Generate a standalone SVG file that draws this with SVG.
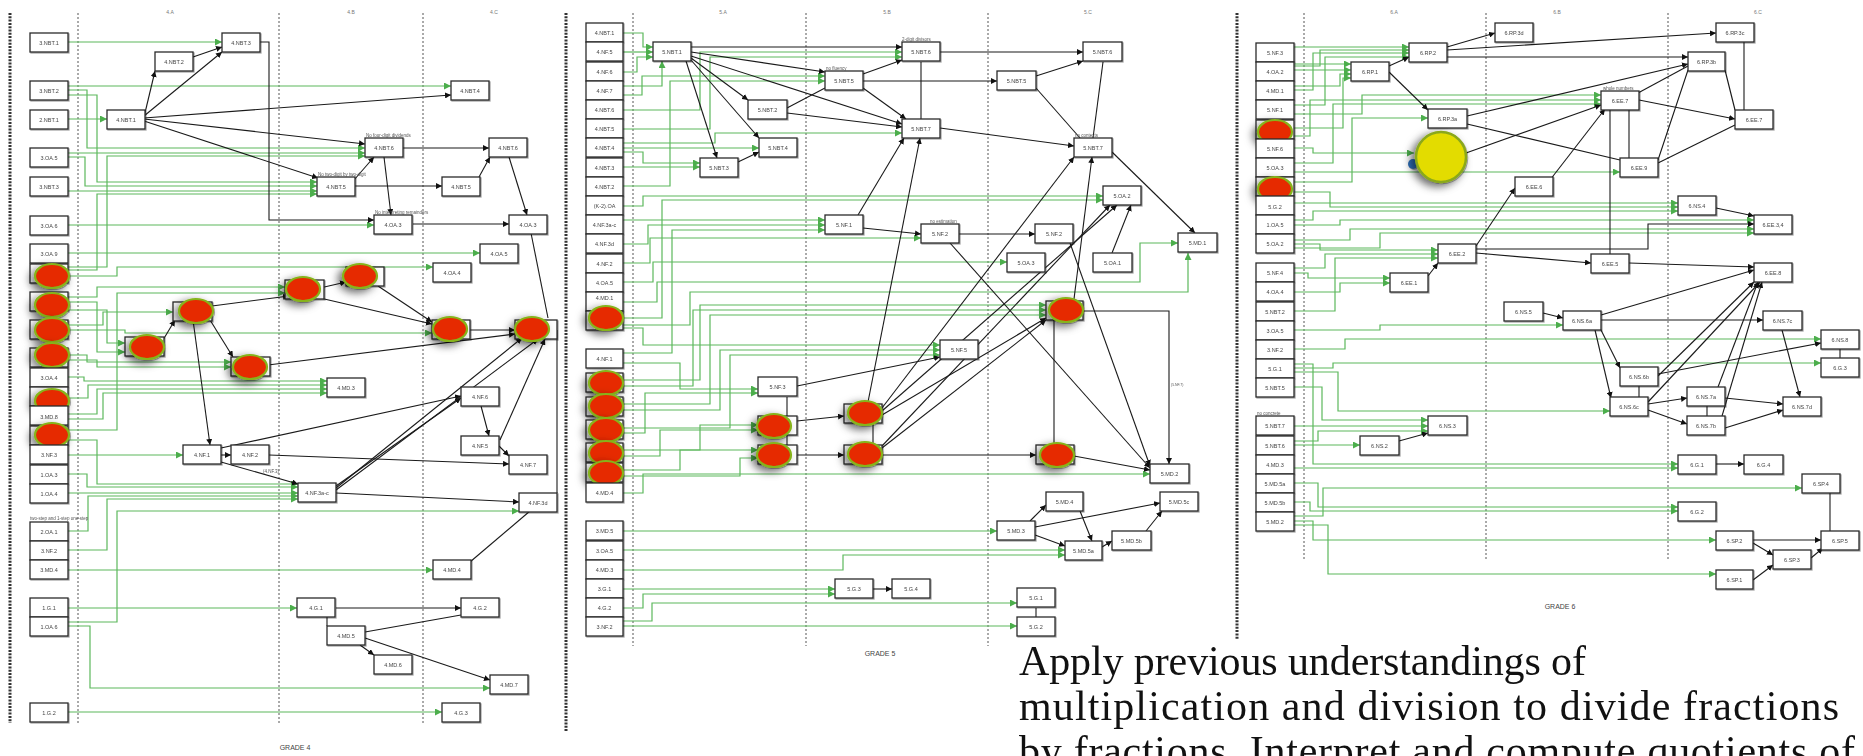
<svg xmlns="http://www.w3.org/2000/svg" width="1863" height="756" viewBox="0 0 1863 756">
<style>
.nd rect{fill:#fff;stroke:#2a2a2a;stroke-width:1.3}
.nd text{font-family:"Liberation Sans",Arial,sans-serif;font-size:5.5px;fill:#444;text-anchor:middle}
.lb{font-family:"Liberation Sans",Arial,sans-serif;font-size:4.5px;fill:#555}
.hd{font-family:"Liberation Sans",Arial,sans-serif;font-size:5px;fill:#777;text-anchor:middle}
.gr{font-family:"Liberation Sans",Arial,sans-serif;font-size:7px;fill:#444;text-anchor:middle}
.red{fill:#e62a00;stroke:#86b31a;stroke-width:2.2}
.g{fill:none;stroke:#5cb85c;stroke-width:1.2;marker-end:url(#ag)}
.gl{fill:none;stroke:#7fcb7f;stroke-width:1.2}
.b{fill:none;stroke:#1a1a1a;stroke-width:1.1;marker-end:url(#ab)}
.bl{fill:none;stroke:#1a1a1a;stroke-width:1.1}
.dv{stroke:#555;stroke-width:1;stroke-dasharray:2 2}
.bd{stroke:#333;stroke-width:3;stroke-dasharray:2 1.3}
.big{font-family:"Liberation Serif","Times New Roman",serif;font-size:42px;fill:#111}
</style>
<defs>
<marker id="ab" viewBox="0 0 10 10" refX="10" refY="5" markerWidth="6" markerHeight="6" markerUnits="userSpaceOnUse" orient="auto"><path d="M0,0L10,5L0,10z" fill="#111"/></marker>
<marker id="ag" viewBox="0 0 10 10" refX="10" refY="5" markerWidth="7" markerHeight="7" markerUnits="userSpaceOnUse" orient="auto"><path d="M0,0L10,5L0,10z" fill="#4cae4c"/></marker>
<filter id="sh" x="-80%" y="-80%" width="260%" height="260%"><feDropShadow dx="-4" dy="3" stdDeviation="4" flood-color="#000" flood-opacity="0.5"/></filter>
<filter id="bs" x="-5%" y="-5%" width="110%" height="110%"><feDropShadow dx="1" dy="1" stdDeviation="0.7" flood-color="#000" flood-opacity="0.35"/></filter>
</defs>
<rect width="1863" height="756" fill="#fff"/>

<!-- column dividers -->
<g id="dividers">
<line class="bd" x1="10" y1="13" x2="10" y2="723"/>
<line class="dv" x1="78" y1="13" x2="78" y2="723"/>
<line class="dv" x1="279" y1="13" x2="279" y2="723"/>
<line class="dv" x1="423" y1="13" x2="423" y2="723"/>
<line class="bd" x1="566" y1="13" x2="566" y2="731"/>
<line class="dv" x1="633" y1="13" x2="633" y2="646"/>
<line class="dv" x1="806" y1="13" x2="806" y2="646"/>
<line class="dv" x1="988" y1="13" x2="988" y2="646"/>
<line class="bd" x1="1237" y1="13" x2="1237" y2="640"/>
<line class="dv" x1="1304" y1="13" x2="1304" y2="560"/>
<line class="dv" x1="1486" y1="13" x2="1486" y2="560"/>
<line class="dv" x1="1668" y1="13" x2="1668" y2="560"/>
<text class="hd" x="170" y="14">4.A</text><text class="hd" x="351" y="14">4.B</text><text class="hd" x="494" y="14">4.C</text>
<text class="hd" x="723" y="14">5.A</text><text class="hd" x="887" y="14">5.B</text><text class="hd" x="1088" y="14">5.C</text>
<text class="hd" x="1394" y="14">6.A</text><text class="hd" x="1557" y="14">6.B</text><text class="hd" x="1758" y="14">6.C</text>
<text class="gr" x="295" y="750">GRADE 4</text>
<text class="gr" x="880" y="656">GRADE 5</text>
<text class="gr" x="1560" y="609">GRADE 6</text>
</g>

<g id="connectors">
<!-- Grade 4 green -->
<path class="g" d="M68,42H222"/>
<path class="g" d="M68,86H451"/>
<path class="g" d="M68,90H87V148H365"/>
<path class="g" d="M68,95H97V182H317"/>
<path class="g" d="M68,119H107"/>
<path class="g" d="M68,153H365"/>
<path class="g" d="M68,157H85V186H317"/>
<path class="g" d="M68,191H317"/>
<path class="g" d="M68,225H374"/>
<path class="g" d="M68,253H480"/>
<path class="g" d="M68,270H97V194H317"/>
<path class="g" d="M68,267H107V156H365"/>
<path class="g" d="M68,276H117V267H433"/>
<path class="g" d="M68,297H97V287H285"/>
<path class="g" d="M68,302H97V352H125"/>
<path class="g" d="M68,310H107V343H125"/>
<path class="g" d="M68,325H103V312H173"/>
<path class="g" d="M68,330H125V333H432"/>
<path class="g" d="M68,360H97V367H231"/>
<path class="g" d="M68,355H87V362H231"/>
<path class="g" d="M68,377H84V381H327"/>
<path class="g" d="M68,398H88V385H327"/>
<path class="g" d="M68,414H97V389H327"/>
<path class="g" d="M68,419H103V393H327"/>
<path class="g" d="M68,430H117V293H285"/>
<path class="g" d="M68,440H97V484H298"/>
<path class="g" d="M68,455H183"/>
<path class="g" d="M68,474H87V487H298"/>
<path class="g" d="M68,493H298"/>
<path class="g" d="M68,531H88V496H298"/>
<path class="g" d="M68,550H107V499H298"/>
<path class="g" d="M68,570H433"/>
<path class="g" d="M68,608H297"/>
<path class="g" d="M68,622H117V511H519"/>
<path class="g" d="M68,626H90V688H490"/>
<path class="g" d="M68,712H442"/>
<!-- Grade 4 black -->
<path class="b" d="M193,57L222,47"/>
<path class="b" d="M144,117L155,71"/>
<path class="b" d="M144,116L222,52"/>
<path class="b" d="M144,118L451,95"/>
<path class="b" d="M144,119L365,144"/>
<path class="b" d="M144,121L318,178"/>
<path class="b" d="M260,42H269V220H374"/>
<path class="b" d="M403,148H489"/>
<path class="b" d="M354,180L374,157"/>
<path class="b" d="M354,186H442"/>
<path class="b" d="M479,177L490,157"/>
<path class="b" d="M384,157L391,215"/>
<path class="b" d="M413,224H509"/>
<path class="b" d="M509,157L527,215"/>
<path class="bl" d="M531,233L548,318"/>
<path class="b" d="M212,306L289,296"/>
<path class="b" d="M163,340L175,320"/>
<path class="b" d="M210,320L233,357"/>
<path class="b" d="M193,320L210,445"/>
<path class="b" d="M320,288L346,282"/>
<path class="b" d="M320,298L432,324"/>
<path class="b" d="M378,286L432,322"/>
<path class="b" d="M268,365L515,334"/>
<path class="b" d="M470,330H515"/>
<path class="b" d="M221,448L461,396"/>
<path class="b" d="M221,455H231"/>
<path class="b" d="M221,462L298,484"/>
<path class="b" d="M269,455L509,464"/>
<path class="b" d="M336,486L461,398"/>
<path class="b" d="M336,488L522,338"/>
<path class="b" d="M336,490L538,339"/>
<path class="b" d="M336,493L519,502"/>
<path class="b" d="M481,406L489,436"/>
<path class="b" d="M499,446L509,456"/>
<path class="b" d="M500,440L545,339"/>
<path class="bl" d="M557,330V493"/>
<path class="bl" d="M470,562L530,511"/>
<path class="b" d="M336,608H461"/>
<path class="bl" d="M327,617V626"/>
<path class="bl" d="M365,632L461,615"/>
<path class="b" d="M360,645L374,655"/>
<path class="b" d="M365,638L490,680"/>

<!-- Grade 5 green -->
<path class="g" d="M623,33H643V47H653"/>
<path class="g" d="M623,52H653"/>
<path class="g" d="M623,72H637V57H653"/>
<path class="g" d="M623,86H662V61"/>
<path class="g" d="M623,95H642V76H825"/>
<path class="g" d="M623,110H700V52H902"/>
<path class="g" d="M623,129H710V57H902"/>
<path class="g" d="M623,143H715V133H902"/>
<path class="g" d="M623,148H759"/>
<path class="g" d="M623,152H643V163H700"/>
<path class="g" d="M623,167H700"/>
<path class="g" d="M623,186H670V81H825"/>
<path class="g" d="M623,206H643V196H1103"/>
<path class="g" d="M623,220H825"/>
<path class="g" d="M623,244H648V225H825"/>
<path class="g" d="M623,263H650V238H921"/>
<path class="g" d="M623,282H653V262H1007"/>
<path class="g" d="M623,302H657V282H1140V243H1178"/>
<path class="g" d="M623,318H662V200H1103"/>
<path class="g" d="M623,325H690V292H1188V253"/>
<path class="g" d="M623,328H643V345H940"/>
<path class="g" d="M623,353H672V230H825"/>
<path class="g" d="M623,363H680V389H758"/>
<path class="g" d="M623,380H700V305H1046"/>
<path class="g" d="M623,386H693V310H1046"/>
<path class="g" d="M623,404H710V315H1046"/>
<path class="g" d="M623,410H720V350H940"/>
<path class="g" d="M623,428H730V355H940"/>
<path class="g" d="M623,433H645V393H758"/>
<path class="g" d="M623,450H700V425H758"/>
<path class="g" d="M623,456H660V430H758"/>
<path class="g" d="M623,470H680V450H758"/>
<path class="g" d="M623,476H740V458H758"/>
<path class="g" d="M623,493H643V474H1150"/>
<path class="g" d="M623,531H997"/>
<path class="g" d="M623,550H1065"/>
<path class="g" d="M623,570H843V555H1065"/>
<path class="g" d="M623,589H835"/>
<path class="g" d="M623,608H643V594H835"/>
<path class="g" d="M623,621H652V603H1017"/>
<path class="g" d="M623,626H1017"/>
<!-- Grade 5 black -->
<path class="b" d="M691,47H902"/>
<path class="b" d="M691,52L825,72"/>
<path class="b" d="M691,58L748,100"/>
<path class="b" d="M691,60L759,138"/>
<path class="b" d="M686,61L717,158"/>
<path class="b" d="M691,56L902,124"/>
<path class="bl" d="M787,108L825,88"/>
<path class="b" d="M787,113L902,127"/>
<path class="b" d="M738,162L759,152"/>
<path class="b" d="M863,74L902,60"/>
<path class="b" d="M863,81H997"/>
<path class="b" d="M863,88L906,119"/>
<path class="bl" d="M921,62V119"/>
<path class="b" d="M940,52H1083"/>
<path class="b" d="M1036,76L1083,61"/>
<path class="bl" d="M1036,88L1080,138"/>
<path class="bl" d="M1103,62L1093,138"/>
<path class="b" d="M940,128L1074,146"/>
<path class="b" d="M1112,152L1195,233"/>
<path class="b" d="M858,215L904,138"/>
<path class="b" d="M868,402L920,138"/>
<path class="b" d="M863,228L921,234"/>
<path class="b" d="M959,234H1035"/>
<path class="b" d="M950,243L1150,468"/>
<path class="b" d="M1070,243L1150,466"/>
<path class="b" d="M1112,253L1131,205"/>
<path class="b" d="M1074,299L1092,157"/>
<path class="b" d="M1083,311H1169V464"/>
<path class="bl" d="M1054,320V445"/>
<path class="b" d="M1074,456L1150,470"/>
<path class="b" d="M797,455H844"/>
<path class="b" d="M797,421L844,416"/>
<path class="b" d="M882,455H1036"/>
<path class="bl" d="M873,424V445"/>
<path class="b" d="M882,408L1074,157"/>
<path class="b" d="M882,411L1117,205"/>
<path class="b" d="M882,415L1046,318"/>
<path class="b" d="M882,448L1046,320"/>
<path class="b" d="M882,446L1110,205"/>
<path class="b" d="M797,386L940,357"/>
<path class="bl" d="M787,397V416"/>
<path class="bl" d="M787,435V445"/>
<path class="b" d="M1030,521L1046,505"/>
<path class="b" d="M1035,527L1160,503"/>
<path class="b" d="M1035,535L1065,546"/>
<path class="b" d="M1080,511L1092,541"/>
<path class="b" d="M1102,547L1112,541"/>
<path class="b" d="M1146,531L1162,511"/>
<path class="b" d="M873,589H892"/>
<path class="bl" d="M1036,608V617"/>

<!-- Grade 6 green -->
<path class="g" d="M1294,47H1409"/>
<path class="g" d="M1294,66H1320V50H1409"/>
<path class="g" d="M1294,90H1313V53H1409"/>
<path class="g" d="M1294,105H1325V57H1409"/>
<path class="g" d="M1294,64H1351"/>
<path class="g" d="M1294,70H1351"/>
<path class="g" d="M1294,86H1340V74H1351"/>
<path class="g" d="M1294,128H1343V78H1351"/>
<path class="g" d="M1294,182H1352V118H1428"/>
<path class="g" d="M1294,148H1313V153H1414"/>
<path class="g" d="M1294,114H1362V95H1601"/>
<path class="g" d="M1294,136H1310V100H1601"/>
<path class="g" d="M1294,163H1333V104H1601"/>
<path class="g" d="M1294,172H1620"/>
<path class="g" d="M1294,203H1678"/>
<path class="g" d="M1294,192H1330V207H1678"/>
<path class="g" d="M1294,220H1313V211H1678"/>
<path class="g" d="M1294,225H1340V220H1754"/>
<path class="g" d="M1294,240H1350V229H1754"/>
<path class="g" d="M1294,248H1380V233H1754"/>
<path class="g" d="M1294,244H1320V250H1438"/>
<path class="g" d="M1294,268H1325V254H1438"/>
<path class="g" d="M1294,311H1335V258H1438"/>
<path class="g" d="M1294,273H1308V278H1390"/>
<path class="g" d="M1294,292H1340V283H1390"/>
<path class="g" d="M1294,330H1380V325H1563"/>
<path class="g" d="M1294,349H1345V339H1821"/>
<path class="g" d="M1294,368H1333V363H1821"/>
<path class="g" d="M1294,372H1338V411H1610"/>
<path class="g" d="M1294,387H1322V420H1428"/>
<path class="g" d="M1294,426H1428"/>
<path class="g" d="M1294,441H1318V431H1428"/>
<path class="g" d="M1294,445H1360"/>
<path class="g" d="M1294,468H1678"/>
<path class="g" d="M1294,364H1313V464H1678"/>
<path class="g" d="M1294,516H1323V488H1802"/>
<path class="g" d="M1294,483H1318V507H1678"/>
<path class="g" d="M1294,502H1310V511H1678"/>
<path class="g" d="M1294,521H1313V540H1716"/>
<path class="g" d="M1294,525H1328V574H1716"/>
<!-- Grade 6 black -->
<path class="b" d="M1389,66L1409,57"/>
<path class="b" d="M1389,72L1428,110"/>
<path class="b" d="M1447,47L1495,33"/>
<path class="b" d="M1447,50L1716,33"/>
<path class="b" d="M1447,57H1688"/>
<path class="b" d="M1467,116L1688,64"/>
<path class="bl" d="M1467,124L1620,160"/>
<path class="b" d="M1466,153L1601,105"/>
<path class="b" d="M1550,180L1605,109"/>
<path class="b" d="M1476,246L1515,188"/>
<path class="b" d="M1428,276L1438,263"/>
<path class="b" d="M1476,253L1591,263"/>
<path class="b" d="M1639,100L1735,119"/>
<path class="bl" d="M1638,93L1688,66"/>
<path class="bl" d="M1629,109V158"/>
<path class="bl" d="M1610,109V254"/>
<path class="bl" d="M1658,160L1688,70"/>
<path class="bl" d="M1658,163L1735,125"/>
<path class="bl" d="M1725,70L1735,110"/>
<path class="bl" d="M1744,42V110"/>
<path class="b" d="M1716,208L1754,216"/>
<path class="b" d="M1629,263L1754,267"/>
<path class="b" d="M1476,249H1648V224H1754"/>
<path class="b" d="M1543,313L1563,318"/>
<path class="b" d="M1601,315L1754,270"/>
<path class="b" d="M1601,320H1763"/>
<path class="b" d="M1599,326L1620,368"/>
<path class="b" d="M1595,330L1611,398"/>
<path class="bl" d="M1639,386V397"/>
<path class="b" d="M1658,376L1754,282"/>
<path class="b" d="M1658,374L1821,343"/>
<path class="b" d="M1648,404L1687,398"/>
<path class="b" d="M1648,410L1687,424"/>
<path class="b" d="M1648,402L1760,282"/>
<path class="bl" d="M1707,406V416"/>
<path class="b" d="M1725,398L1783,404"/>
<path class="b" d="M1725,428L1783,410"/>
<path class="b" d="M1782,330L1800,397"/>
<path class="b" d="M1718,387L1758,282"/>
<path class="b" d="M1722,416L1762,282"/>
<path class="b" d="M1399,441L1428,433"/>
<path class="b" d="M1716,464H1744"/>
<path class="bl" d="M1830,493V531"/>
<path class="bl" d="M1840,349V358"/>
<path class="b" d="M1753,540H1821"/>
<path class="b" d="M1753,543L1773,555"/>
<path class="b" d="M1811,558L1823,548"/>
<path class="b" d="M1753,580L1773,565"/>
</g>

<g id="nodes" filter="url(#bs)">
<!-- Grade 4 left column -->
<g id="g4-3NBT1" class="nd"><rect x="30" y="33" width="38" height="19"/><text x="49" y="44.5">3.NBT.1</text></g>
<g id="g4-3NBT2" class="nd"><rect x="30" y="81" width="38" height="19"/><text x="49" y="92.5">3.NBT.2</text></g>
<g id="g4-2NBT1" class="nd"><rect x="30" y="110" width="38" height="19"/><text x="49" y="121.5">2.NBT.1</text></g>
<g id="g4-3OA5" class="nd"><rect x="30" y="148" width="38" height="19"/><text x="49" y="159.5">3.OA.5</text></g>
<g id="g4-3NBT3" class="nd"><rect x="30" y="177" width="38" height="19"/><text x="49" y="188.5">3.NBT.3</text></g>
<g id="g4-3OA6" class="nd"><rect x="30" y="216" width="38" height="19"/><text x="49" y="227.5">3.OA.6</text></g>
<g id="g4-3OA9" class="nd"><rect x="30" y="244" width="38" height="19"/><text x="49" y="255.5">3.OA.9</text></g>
<g id="g4-r1" class="nd"><rect x="30" y="264" width="38" height="19"/><ellipse class="red" filter="url(#sh)" cx="52" cy="276" rx="17" ry="12"/></g>
<g id="g4-r2" class="nd"><rect x="30" y="292" width="38" height="19"/><ellipse class="red" filter="url(#sh)" cx="52" cy="305" rx="17" ry="12"/></g>
<g id="g4-r3" class="nd"><rect x="30" y="320" width="38" height="19"/><ellipse class="red" filter="url(#sh)" cx="52" cy="330" rx="17" ry="12"/></g>
<g id="g4-r4" class="nd"><rect x="30" y="348" width="38" height="19"/><ellipse class="red" filter="url(#sh)" cx="52" cy="355" rx="17" ry="12"/></g>
<g id="g4-3OA4" class="nd"><rect x="30" y="368" width="38" height="19"/><text x="49" y="379.5">3.OA.4</text></g>
<g id="g4-r5" class="nd"><rect x="30" y="387" width="38" height="19"/><ellipse class="red" filter="url(#sh)" cx="52" cy="401" rx="17" ry="12"/></g>
<g id="g4-3MD8" class="nd"><rect x="30" y="406" width="38" height="19"/><text x="49" y="419">3.MD.8</text></g>
<g id="g4-r6" class="nd"><rect x="30" y="426" width="38" height="19"/><ellipse class="red" filter="url(#sh)" cx="52" cy="435" rx="17" ry="12"/></g>
<g id="g4-3NF3" class="nd"><rect x="30" y="445" width="38" height="19"/><text x="49" y="456.5">3.NF.3</text></g>
<g id="g4-1OA3" class="nd"><rect x="30" y="465" width="38" height="19"/><text x="49" y="476.5">1.OA.3</text></g>
<g id="g4-1OA4" class="nd"><rect x="30" y="484" width="38" height="19"/><text x="49" y="495.5">1.OA.4</text></g>
<g id="g4-2OA1" class="nd"><rect x="30" y="522" width="38" height="19"/><text x="49" y="533.5">2.OA.1</text></g>
<g id="g4-3NF2" class="nd"><rect x="30" y="541" width="38" height="19"/><text x="49" y="552.5">3.NF.2</text></g>
<g id="g4-3MD4" class="nd"><rect x="30" y="560" width="38" height="19"/><text x="49" y="571.5">3.MD.4</text></g>
<g id="g4-1G1" class="nd"><rect x="30" y="598" width="38" height="19"/><text x="49" y="609.5">1.G.1</text></g>
<g id="g4-1OA6" class="nd"><rect x="30" y="617" width="38" height="19"/><text x="49" y="628.5">1.OA.6</text></g>
<g id="g4-1G2" class="nd"><rect x="30" y="703" width="38" height="19"/><text x="49" y="714.5">1.G.2</text></g>
<!-- Grade 4 interior -->
<g id="g4-4NBT2" class="nd"><rect x="155" y="52" width="38" height="19"/><text x="174" y="63.5">4.NBT.2</text></g>
<g id="g4-4NBT3" class="nd"><rect x="222" y="33" width="38" height="19"/><text x="241" y="44.5">4.NBT.3</text></g>
<g id="g4-4NBT1" class="nd"><rect x="107" y="110" width="38" height="19"/><text x="126" y="121.5">4.NBT.1</text></g>
<g id="g4-4NBT4" class="nd"><rect x="451" y="81" width="38" height="19"/><text x="470" y="92.5">4.NBT.4</text></g>
<g id="g4-4NBT6b" class="nd"><rect x="365" y="138" width="38" height="19"/><text x="384" y="149.5">4.NBT.6</text></g>
<g id="g4-4NBT5b" class="nd"><rect x="317" y="177" width="38" height="19"/><text x="336" y="188.5">4.NBT.5</text></g>
<g id="g4-4NBT6c" class="nd"><rect x="489" y="138" width="38" height="19"/><text x="508" y="149.5">4.NBT.6</text></g>
<g id="g4-4NBT5c" class="nd"><rect x="442" y="177" width="38" height="19"/><text x="461" y="188.5">4.NBT.5</text></g>
<g id="g4-4OA3b" class="nd"><rect x="374" y="215" width="38" height="19"/><text x="393" y="226.5">4.OA.3</text></g>
<g id="g4-4OA3c" class="nd"><rect x="509" y="215" width="38" height="19"/><text x="528" y="226.5">4.OA.3</text></g>
<g id="g4-4OA5" class="nd"><rect x="480" y="244" width="38" height="19"/><text x="499" y="255.5">4.OA.5</text></g>
<g id="g4-4OA4" class="nd"><rect x="433" y="263" width="38" height="19"/><text x="452" y="274.5">4.OA.4</text></g>
<g id="g4-r7" class="nd"><rect x="173" y="302" width="39" height="19"/><ellipse class="red" filter="url(#sh)" cx="196" cy="311" rx="17" ry="12"/></g>
<g id="g4-r8" class="nd"><rect x="125" y="337" width="39" height="19"/><ellipse class="red" filter="url(#sh)" cx="147" cy="347" rx="17" ry="12"/></g>
<g id="g4-r9" class="nd"><rect x="231" y="357" width="39" height="19"/><ellipse class="red" filter="url(#sh)" cx="250" cy="367" rx="17" ry="12"/></g>
<g id="g4-r10" class="nd"><rect x="285" y="280" width="39" height="19"/><ellipse class="red" filter="url(#sh)" cx="303" cy="289" rx="17" ry="12"/></g>
<g id="g4-r11" class="nd"><rect x="346" y="267" width="38" height="19"/><ellipse class="red" filter="url(#sh)" cx="360" cy="276" rx="17" ry="12"/></g>
<g id="g4-r12" class="nd"><rect x="432" y="320" width="38" height="19"/><ellipse class="red" filter="url(#sh)" cx="450" cy="329" rx="17" ry="12"/></g>
<g id="g4-r13" class="nd"><rect x="515" y="320" width="42" height="19"/><ellipse class="red" filter="url(#sh)" cx="532" cy="329" rx="17" ry="12"/></g>
<g id="g4-4MD3" class="nd"><rect x="327" y="378" width="38" height="19"/><text x="346" y="389.5">4.MD.3</text></g>
<g id="g4-4NF6" class="nd"><rect x="461" y="387" width="38" height="19"/><text x="480" y="398.5">4.NF.6</text></g>
<g id="g4-4NF5" class="nd"><rect x="461" y="436" width="38" height="19"/><text x="480" y="447.5">4.NF.5</text></g>
<g id="g4-4NF7" class="nd"><rect x="509" y="455" width="38" height="19"/><text x="528" y="466.5">4.NF.7</text></g>
<g id="g4-4NF3d" class="nd"><rect x="519" y="493" width="38" height="19"/><text x="538" y="504.5">4.NF.3d</text></g>
<g id="g4-4NF1" class="nd"><rect x="183" y="445" width="38" height="19"/><text x="202" y="456.5">4.NF.1</text></g>
<g id="g4-4NF2" class="nd"><rect x="231" y="445" width="38" height="19"/><text x="250" y="456.5">4.NF.2</text></g>
<g id="g4-4NF3ac" class="nd"><rect x="298" y="483" width="38" height="19"/><text x="317" y="494.5">4.NF.3a-c</text></g>
<g id="g4-4MD4" class="nd"><rect x="433" y="560" width="38" height="19"/><text x="452" y="571.5">4.MD.4</text></g>
<g id="g4-4G1" class="nd"><rect x="297" y="598" width="38" height="19"/><text x="316" y="609.5">4.G.1</text></g>
<g id="g4-4G2" class="nd"><rect x="461" y="598" width="38" height="19"/><text x="480" y="609.5">4.G.2</text></g>
<g id="g4-4MD5" class="nd"><rect x="327" y="626" width="38" height="19"/><text x="346" y="637.5">4.MD.5</text></g>
<g id="g4-4MD6" class="nd"><rect x="374" y="655" width="38" height="19"/><text x="393" y="666.5">4.MD.6</text></g>
<g id="g4-4MD7" class="nd"><rect x="490" y="675" width="38" height="19"/><text x="509" y="686.5">4.MD.7</text></g>
<g id="g4-4G3" class="nd"><rect x="442" y="703" width="38" height="19"/><text x="461" y="714.5">4.G.3</text></g>

<!-- Grade 5 left column -->
<g id="g5-4NBT1" class="nd"><rect x="586" y="23" width="37" height="19"/><text x="604.5" y="34.5">4.NBT.1</text></g>
<g id="g5-4NF5" class="nd"><rect x="586" y="42" width="37" height="19"/><text x="604.5" y="53.5">4.NF.5</text></g>
<g id="g5-4NF6" class="nd"><rect x="586" y="62" width="37" height="19"/><text x="604.5" y="73.5">4.NF.6</text></g>
<g id="g5-4NF7" class="nd"><rect x="586" y="81" width="37" height="19"/><text x="604.5" y="92.5">4.NF.7</text></g>
<g id="g5-4NBT6" class="nd"><rect x="586" y="100" width="37" height="19"/><text x="604.5" y="111.5">4.NBT.6</text></g>
<g id="g5-4NBT5" class="nd"><rect x="586" y="119" width="37" height="19"/><text x="604.5" y="130.5">4.NBT.5</text></g>
<g id="g5-4NBT4" class="nd"><rect x="586" y="138" width="37" height="19"/><text x="604.5" y="149.5">4.NBT.4</text></g>
<g id="g5-4NBT3" class="nd"><rect x="586" y="158" width="37" height="19"/><text x="604.5" y="169.5">4.NBT.3</text></g>
<g id="g5-4NBT2" class="nd"><rect x="586" y="177" width="37" height="19"/><text x="604.5" y="188.5">4.NBT.2</text></g>
<g id="g5-K2OA" class="nd"><rect x="586" y="196" width="37" height="19"/><text x="604.5" y="207.5">(K-2).OA</text></g>
<g id="g5-4NF3ac" class="nd"><rect x="586" y="215" width="37" height="19"/><text x="604.5" y="226.5">4.NF.3a-c</text></g>
<g id="g5-4NF3d" class="nd"><rect x="586" y="234" width="37" height="19"/><text x="604.5" y="245.5">4.NF.3d</text></g>
<g id="g5-4NF2" class="nd"><rect x="586" y="254" width="37" height="19"/><text x="604.5" y="265.5">4.NF.2</text></g>
<g id="g5-4OA5" class="nd"><rect x="586" y="273" width="37" height="19"/><text x="604.5" y="284.5">4.OA.5</text></g>
<g id="g5-4MD1" class="nd"><rect x="586" y="292" width="37" height="19"/><text x="604.5" y="300">4.MD.1</text></g>
<g id="g5-r1" class="nd"><rect x="586" y="311" width="37" height="19"/><ellipse class="red" filter="url(#sh)" cx="606" cy="318" rx="17" ry="12"/></g>
<g id="g5-4NF1" class="nd"><rect x="586" y="349" width="37" height="19"/><text x="604.5" y="360.5">4.NF.1</text></g>
<g id="g5-r2" class="nd"><rect x="586" y="373" width="37" height="19"/><ellipse class="red" filter="url(#sh)" cx="606" cy="383" rx="17" ry="12"/></g>
<g id="g5-r3" class="nd"><rect x="586" y="397" width="37" height="19"/><ellipse class="red" filter="url(#sh)" cx="606" cy="406" rx="17" ry="12"/></g>
<g id="g5-r4" class="nd"><rect x="586" y="420" width="37" height="19"/><ellipse class="red" filter="url(#sh)" cx="606" cy="430" rx="17" ry="12"/></g>
<g id="g5-r5" class="nd"><rect x="586" y="443" width="37" height="19"/><ellipse class="red" filter="url(#sh)" cx="606" cy="453" rx="17" ry="12"/></g>
<g id="g5-r6" class="nd"><rect x="586" y="463" width="37" height="19"/><ellipse class="red" filter="url(#sh)" cx="606" cy="473" rx="17" ry="12"/></g>
<g id="g5-4MD4" class="nd"><rect x="586" y="483" width="37" height="19"/><text x="604.5" y="494.5">4.MD.4</text></g>
<g id="g5-3MD5" class="nd"><rect x="586" y="521" width="37" height="19"/><text x="604.5" y="532.5">3.MD.5</text></g>
<g id="g5-3OA5" class="nd"><rect x="586" y="541" width="37" height="19"/><text x="604.5" y="552.5">3.OA.5</text></g>
<g id="g5-4MD3" class="nd"><rect x="586" y="560" width="37" height="19"/><text x="604.5" y="571.5">4.MD.3</text></g>
<g id="g5-3G1" class="nd"><rect x="586" y="579" width="37" height="19"/><text x="604.5" y="590.5">3.G.1</text></g>
<g id="g5-4G2" class="nd"><rect x="586" y="598" width="37" height="19"/><text x="604.5" y="609.5">4.G.2</text></g>
<g id="g5-3NF2" class="nd"><rect x="586" y="617" width="37" height="19"/><text x="604.5" y="628.5">3.NF.2</text></g>
<!-- Grade 5 interior -->
<g id="g5-5NBT1" class="nd"><rect x="653" y="42" width="38" height="19"/><text x="672" y="53.5">5.NBT.1</text></g>
<g id="g5-5NBT5b" class="nd"><rect x="825" y="71" width="38" height="19"/><text x="844" y="82.5">5.NBT.5</text></g>
<g id="g5-5NBT2" class="nd"><rect x="748" y="100" width="39" height="19"/><text x="767.5" y="111.5">5.NBT.2</text></g>
<g id="g5-5NBT4" class="nd"><rect x="759" y="138" width="38" height="19"/><text x="778" y="149.5">5.NBT.4</text></g>
<g id="g5-5NBT3" class="nd"><rect x="700" y="158" width="38" height="19"/><text x="719" y="169.5">5.NBT.3</text></g>
<g id="g5-5NBT6b" class="nd"><rect x="902" y="42" width="38" height="19"/><text x="921" y="53.5">5.NBT.6</text></g>
<g id="g5-5NBT7b" class="nd"><rect x="902" y="119" width="38" height="19"/><text x="921" y="130.5">5.NBT.7</text></g>
<g id="g5-5NBT6c" class="nd"><rect x="1083" y="42" width="39" height="19"/><text x="1102.5" y="53.5">5.NBT.6</text></g>
<g id="g5-5NBT5c" class="nd"><rect x="997" y="71" width="39" height="19"/><text x="1016.5" y="82.5">5.NBT.5</text></g>
<g id="g5-5NBT7c" class="nd"><rect x="1074" y="138" width="38" height="19"/><text x="1093" y="149.5">5.NBT.7</text></g>
<g id="g5-5OA2" class="nd"><rect x="1103" y="186" width="38" height="19"/><text x="1122" y="197.5">5.OA.2</text></g>
<g id="g5-5NF2b" class="nd"><rect x="921" y="224" width="38" height="19"/><text x="940" y="235.5">5.NF.2</text></g>
<g id="g5-5NF2c" class="nd"><rect x="1035" y="224" width="38" height="19"/><text x="1054" y="235.5">5.NF.2</text></g>
<g id="g5-5OA3" class="nd"><rect x="1007" y="253" width="38" height="19"/><text x="1026" y="264.5">5.OA.3</text></g>
<g id="g5-5OA1" class="nd"><rect x="1093" y="253" width="39" height="19"/><text x="1112.5" y="264.5">5.OA.1</text></g>
<g id="g5-5MD1" class="nd"><rect x="1178" y="233" width="39" height="19"/><text x="1197.5" y="244.5">5.MD.1</text></g>
<g id="g5-5NF1" class="nd"><rect x="825" y="215" width="38" height="19"/><text x="844" y="226.5">5.NF.1</text></g>
<g id="g5-rC1" class="nd"><rect x="1046" y="301" width="37" height="19"/><ellipse class="red" filter="url(#sh)" cx="1066" cy="310" rx="17" ry="12"/></g>
<g id="g5-5NF5" class="nd"><rect x="940" y="340" width="38" height="19"/><text x="959" y="351.5">5.NF.5</text></g>
<g id="g5-5NF3" class="nd"><rect x="758" y="377" width="39" height="19"/><text x="777.5" y="388.5">5.NF.3</text></g>
<g id="g5-rA1" class="nd"><rect x="758" y="416" width="39" height="19"/><ellipse class="red" filter="url(#sh)" cx="774" cy="426" rx="17" ry="12"/></g>
<g id="g5-rA2" class="nd"><rect x="758" y="445" width="39" height="19"/><ellipse class="red" filter="url(#sh)" cx="774" cy="455" rx="17" ry="12"/></g>
<g id="g5-rB1" class="nd"><rect x="844" y="404" width="38" height="19"/><ellipse class="red" filter="url(#sh)" cx="865" cy="413" rx="17" ry="12"/></g>
<g id="g5-rB2" class="nd"><rect x="844" y="445" width="38" height="19"/><ellipse class="red" filter="url(#sh)" cx="865" cy="454" rx="17" ry="12"/></g>
<g id="g5-rC2" class="nd"><rect x="1036" y="445" width="38" height="19"/><ellipse class="red" filter="url(#sh)" cx="1057" cy="455" rx="17" ry="12"/></g>
<g id="g5-5MD2" class="nd"><rect x="1150" y="464" width="39" height="19"/><text x="1169.5" y="475.5">5.MD.2</text></g>
<g id="g5-5MD3" class="nd"><rect x="997" y="521" width="38" height="19"/><text x="1016" y="532.5">5.MD.3</text></g>
<g id="g5-5MD4" class="nd"><rect x="1046" y="492" width="37" height="19"/><text x="1064.5" y="503.5">5.MD.4</text></g>
<g id="g5-5MD5c" class="nd"><rect x="1160" y="492" width="38" height="19"/><text x="1179" y="503.5">5.MD.5c</text></g>
<g id="g5-5MD5a" class="nd"><rect x="1065" y="541" width="37" height="19"/><text x="1083.5" y="552.5">5.MD.5a</text></g>
<g id="g5-5MD5b" class="nd"><rect x="1112" y="531" width="39" height="19"/><text x="1131.5" y="542.5">5.MD.5b</text></g>
<g id="g5-5G3" class="nd"><rect x="835" y="579" width="38" height="19"/><text x="854" y="590.5">5.G.3</text></g>
<g id="g5-5G4" class="nd"><rect x="892" y="579" width="38" height="19"/><text x="911" y="590.5">5.G.4</text></g>
<g id="g5-5G1" class="nd"><rect x="1017" y="588" width="38" height="19"/><text x="1036" y="599.5">5.G.1</text></g>
<g id="g5-5G2" class="nd"><rect x="1017" y="617" width="38" height="19"/><text x="1036" y="628.5">5.G.2</text></g>

<!-- Grade 6 left column -->
<g id="g6-5NF3" class="nd"><rect x="1256" y="43" width="38" height="19"/><text x="1275" y="54.5">5.NF.3</text></g>
<g id="g6-4OA2" class="nd"><rect x="1256" y="62" width="38" height="19"/><text x="1275" y="73.5">4.OA.2</text></g>
<g id="g6-4MD1" class="nd"><rect x="1256" y="81" width="38" height="19"/><text x="1275" y="92.5">4.MD.1</text></g>
<g id="g6-5NF1" class="nd"><rect x="1256" y="100" width="38" height="19"/><text x="1275" y="111.5">5.NF.1</text></g>
<g id="g6-r1" class="nd"><rect x="1256" y="120" width="38" height="19"/><ellipse class="red" filter="url(#sh)" cx="1275" cy="132" rx="17" ry="12"/></g>
<g id="g6-5NF6" class="nd"><rect x="1256" y="139" width="38" height="19"/><text x="1275" y="151">5.NF.6</text></g>
<g id="g6-5OA3" class="nd"><rect x="1256" y="158" width="38" height="19"/><text x="1275" y="169.5">5.OA.3</text></g>
<g id="g6-r2" class="nd"><rect x="1256" y="177" width="38" height="19"/><ellipse class="red" filter="url(#sh)" cx="1275" cy="189" rx="17" ry="12"/></g>
<g id="g6-5G2" class="nd"><rect x="1256" y="196" width="38" height="19"/><text x="1275" y="208.5">5.G.2</text></g>
<g id="g6-1OA5" class="nd"><rect x="1256" y="215" width="38" height="19"/><text x="1275" y="226.5">1.OA.5</text></g>
<g id="g6-5OA2" class="nd"><rect x="1256" y="234" width="38" height="19"/><text x="1275" y="245.5">5.OA.2</text></g>
<g id="g6-5NF4" class="nd"><rect x="1256" y="263" width="38" height="19"/><text x="1275" y="274.5">5.NF.4</text></g>
<g id="g6-4OA4" class="nd"><rect x="1256" y="282" width="38" height="19"/><text x="1275" y="293.5">4.OA.4</text></g>
<g id="g6-5NBT2" class="nd"><rect x="1256" y="302" width="38" height="19"/><text x="1275" y="313.5">5.NBT.2</text></g>
<g id="g6-3OA5" class="nd"><rect x="1256" y="321" width="38" height="19"/><text x="1275" y="332.5">3.OA.5</text></g>
<g id="g6-3NF2" class="nd"><rect x="1256" y="340" width="38" height="19"/><text x="1275" y="351.5">3.NF.2</text></g>
<g id="g6-5G1" class="nd"><rect x="1256" y="359" width="38" height="19"/><text x="1275" y="370.5">5.G.1</text></g>
<g id="g6-5NBT5" class="nd"><rect x="1256" y="378" width="38" height="19"/><text x="1275" y="389.5">5.NBT.5</text></g>
<g id="g6-5NBT7" class="nd"><rect x="1256" y="416" width="38" height="19"/><text x="1275" y="427.5">5.NBT.7</text></g>
<g id="g6-5NBT6" class="nd"><rect x="1256" y="436" width="38" height="19"/><text x="1275" y="447.5">5.NBT.6</text></g>
<g id="g6-4MD3" class="nd"><rect x="1256" y="455" width="38" height="19"/><text x="1275" y="466.5">4.MD.3</text></g>
<g id="g6-5MD5a" class="nd"><rect x="1256" y="474" width="38" height="19"/><text x="1275" y="485.5">5.MD.5a</text></g>
<g id="g6-5MD5b" class="nd"><rect x="1256" y="493" width="38" height="19"/><text x="1275" y="504.5">5.MD.5b</text></g>
<g id="g6-5MD2" class="nd"><rect x="1256" y="512" width="38" height="19"/><text x="1275" y="523.5">5.MD.2</text></g>
<!-- Grade 6 interior -->
<g id="g6-6RP2" class="nd"><rect x="1409" y="43" width="38" height="19"/><text x="1428" y="54.5">6.RP.2</text></g>
<g id="g6-6RP3d" class="nd"><rect x="1495" y="23" width="38" height="19"/><text x="1514" y="34.5">6.RP.3d</text></g>
<g id="g6-6RP1" class="nd"><rect x="1351" y="62" width="38" height="19"/><text x="1370" y="73.5">6.RP.1</text></g>
<g id="g6-6RP3a" class="nd"><rect x="1428" y="109" width="39" height="19"/><text x="1447.5" y="120.5">6.RP.3a</text></g>
<g id="g6-6EE6" class="nd"><rect x="1515" y="177" width="38" height="19"/><text x="1534" y="188.5">6.EE.6</text></g>
<g id="g6-6EE2" class="nd"><rect x="1438" y="244" width="38" height="19"/><text x="1457" y="255.5">6.EE.2</text></g>
<g id="g6-6EE1" class="nd"><rect x="1390" y="273" width="38" height="19"/><text x="1409" y="284.5">6.EE.1</text></g>
<g id="g6-6NS5" class="nd"><rect x="1504" y="302" width="39" height="19"/><text x="1523.5" y="313.5">6.NS.5</text></g>
<g id="g6-6RP3c" class="nd"><rect x="1716" y="23" width="38" height="19"/><text x="1735" y="34.5">6.RP.3c</text></g>
<g id="g6-6RP3b" class="nd"><rect x="1688" y="52" width="37" height="19"/><text x="1706.5" y="63.5">6.RP.3b</text></g>
<g id="g6-6EE7b" class="nd"><rect x="1601" y="91" width="38" height="19"/><text x="1620" y="102.5">6.EE.7</text></g>
<g id="g6-6EE7c" class="nd"><rect x="1735" y="110" width="38" height="19"/><text x="1754" y="121.5">6.EE.7</text></g>
<g id="g6-6EE9" class="nd"><rect x="1620" y="158" width="38" height="19"/><text x="1639" y="169.5">6.EE.9</text></g>
<g id="g6-6NS4" class="nd"><rect x="1678" y="196" width="38" height="19"/><text x="1697" y="207.5">6.NS.4</text></g>
<g id="g6-6EE34" class="nd"><rect x="1754" y="215" width="38" height="19"/><text x="1773" y="226.5">6.EE.3,4</text></g>
<g id="g6-6EE5" class="nd"><rect x="1591" y="254" width="38" height="19"/><text x="1610" y="265.5">6.EE.5</text></g>
<g id="g6-6EE8" class="nd"><rect x="1754" y="263" width="38" height="19"/><text x="1773" y="274.5">6.EE.8</text></g>
<g id="g6-6NS6a" class="nd"><rect x="1563" y="311" width="38" height="19"/><text x="1582" y="322.5">6.NS.6a</text></g>
<g id="g6-6NS7c" class="nd"><rect x="1763" y="311" width="39" height="19"/><text x="1782.5" y="322.5">6.NS.7c</text></g>
<g id="g6-6NS8" class="nd"><rect x="1821" y="330" width="38" height="19"/><text x="1840" y="341.5">6.NS.8</text></g>
<g id="g6-6G3" class="nd"><rect x="1821" y="358" width="38" height="19"/><text x="1840" y="369.5">6.G.3</text></g>
<g id="g6-6NS6b" class="nd"><rect x="1620" y="367" width="38" height="19"/><text x="1639" y="378.5">6.NS.6b</text></g>
<g id="g6-6NS6c" class="nd"><rect x="1610" y="397" width="38" height="19"/><text x="1629" y="408.5">6.NS.6c</text></g>
<g id="g6-6NS7a" class="nd"><rect x="1687" y="387" width="38" height="19"/><text x="1706" y="398.5">6.NS.7a</text></g>
<g id="g6-6NS7b" class="nd"><rect x="1687" y="416" width="38" height="19"/><text x="1706" y="427.5">6.NS.7b</text></g>
<g id="g6-6NS7d" class="nd"><rect x="1783" y="397" width="38" height="19"/><text x="1802" y="408.5">6.NS.7d</text></g>
<g id="g6-6NS3" class="nd"><rect x="1428" y="416" width="39" height="19"/><text x="1447.5" y="427.5">6.NS.3</text></g>
<g id="g6-6NS2" class="nd"><rect x="1360" y="436" width="39" height="19"/><text x="1379.5" y="447.5">6.NS.2</text></g>
<g id="g6-6G1" class="nd"><rect x="1678" y="455" width="38" height="19"/><text x="1697" y="466.5">6.G.1</text></g>
<g id="g6-6G4" class="nd"><rect x="1744" y="455" width="39" height="19"/><text x="1763.5" y="466.5">6.G.4</text></g>
<g id="g6-6SP4" class="nd"><rect x="1802" y="474" width="38" height="19"/><text x="1821" y="485.5">6.SP.4</text></g>
<g id="g6-6G2" class="nd"><rect x="1678" y="502" width="38" height="19"/><text x="1697" y="513.5">6.G.2</text></g>
<g id="g6-6SP2" class="nd"><rect x="1716" y="531" width="37" height="19"/><text x="1734.5" y="542.5">6.SP.2</text></g>
<g id="g6-6SP5" class="nd"><rect x="1821" y="531" width="38" height="19"/><text x="1840" y="542.5">6.SP.5</text></g>
<g id="g6-6SP3" class="nd"><rect x="1773" y="550" width="38" height="19"/><text x="1792" y="561.5">6.SP.3</text></g>
<g id="g6-6SP1" class="nd"><rect x="1716" y="570" width="37" height="19"/><text x="1734.5" y="581.5">6.SP.1</text></g>
<g id="g6-6NS1">
<circle cx="1413" cy="164" r="5" fill="#2f6db5"/>
<circle cx="1441" cy="157" r="25" fill="#e3dc00" stroke="#8aa81a" stroke-width="2.5" filter="url(#sh)"/>
</g>
</g>

<g id="notes">
<text class="lb" x="366" y="137">No four-digit dividends</text>
<text class="lb" x="318" y="176">No two-digit by two-digit</text>
<text class="lb" x="375" y="214">No interpreting remainders</text>
<text class="lb" x="263" y="473">(4.NF.3)</text>
<text class="lb" x="30" y="520">two-step and 1-step one-step</text>
<text class="lb" x="826" y="70">no fluency</text>
<text class="lb" x="902" y="41">2-digit divisors</text>
<text class="lb" x="1075" y="137">no contexts</text>
<text class="lb" x="930" y="223">no estimation</text>
<text class="lb" x="1171" y="386" style="font-size:3.5px">(5.NF.7)</text>
<text class="lb" x="1603" y="90">whole numbers</text>
<text class="lb" x="1257" y="415">no concrete</text>
</g>

<g id="caption">
<text class="big" x="1019" y="675" textLength="567">Apply previous understandings of</text>
<text class="big" x="1019" y="720" textLength="820">multiplication and division to divide fractions</text>
<text class="big" x="1019" y="765" textLength="836">by fractions. Interpret and compute quotients of</text>
</g>
</svg>
